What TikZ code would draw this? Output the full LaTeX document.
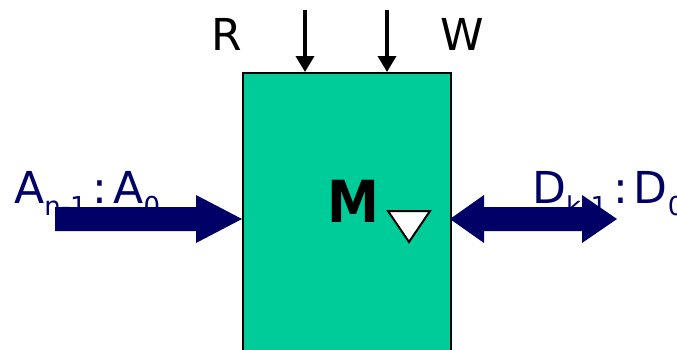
\documentclass[tikz,border=0pt]{standalone}
\usepackage{fontspec}
\setmainfont{DejaVu Sans}
\usetikzlibrary{arrows.meta}
\definecolor{memgreen}{HTML}{00CC99}
\definecolor{navy}{HTML}{000066}
\newcommand\lowsub[1]{\raisebox{-12pt}{\fontsize{26}{28}\selectfont #1}}
\tikzset{
  lbl/.style={font=\fontsize{44}{48}\selectfont, inner sep=0pt, anchor=base west},
  busarrow/.style={fill=navy, draw=none},
  ctl/.style={draw=black, line width=3.5pt, -{Triangle[length=16pt,width=18pt]}},
}
\begin{document}
\begin{tikzpicture}[x=1pt,y=-1pt]
\useasboundingbox (0,0) rectangle (677,349);
% memory block
\node[draw=black, line width=2pt, fill=memgreen, minimum width=208pt, minimum height=300pt, anchor=north west, inner sep=0pt] (mem) at (242,72) {};
% control inputs
\coordinate (rtop) at (305,10);
\coordinate (wtop) at (387,10);
\draw[ctl] (rtop) -- (rtop |- mem.north);
\draw[ctl] (wtop) -- (wtop |- mem.north);
\node[lbl] (R) at (211,50) {R};
\node[lbl] (W) at (440,50) {W};
% labels
\node[lbl, text=navy] (addr) at (14,203) {A\lowsub{n-1}\kern6pt:\kern6pt A\lowsub{0}};
\node[lbl, text=navy] (data) at (532,203) {D\lowsub{k-1}\kern6pt:\kern6pt D\lowsub{0}};
\node[lbl, font=\fontsize{58}{62}\selectfont\bfseries] (M) at (327,222) {\scalebox{0.9}[1]{M}};
% clock triangle
\draw[black, line width=2pt, fill=white] (388,211) -- (430,211) -- (409,242) -- cycle;
% address bus arrow
\fill[busarrow] (55,207) -- (196,207) -- (196,195) -- (242,219) -- (196,243) -- (196,231) -- (55,231) -- cycle;
% data bus double arrow
\fill[busarrow] (450,219) -- (484,195) -- (484,207) -- (582,207) -- (582,195) -- (617,219) -- (582,243) -- (582,231) -- (484,231) -- (484,243) -- cycle;
\end{tikzpicture}
\end{document}
